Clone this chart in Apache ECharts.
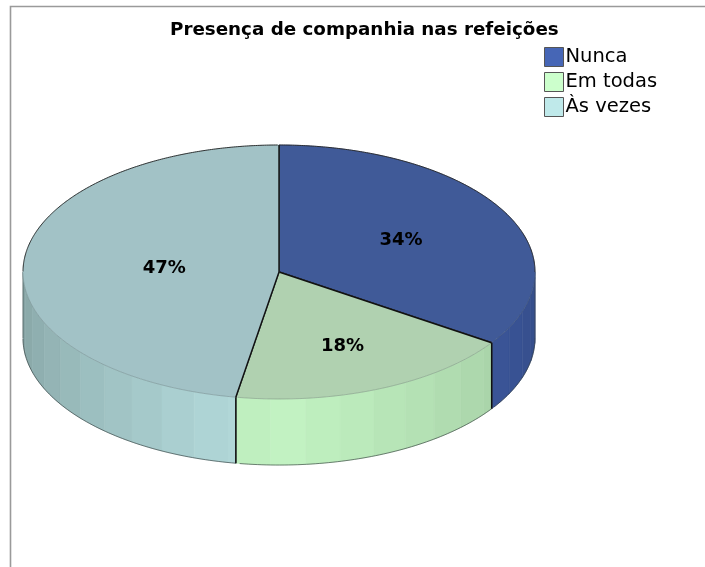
<!DOCTYPE html>
<html><head><meta charset="utf-8">
<style>html,body{margin:0;padding:0;background:#fff}#c{width:705px;height:567px}</style>
<script src="https://cdn.jsdelivr.net/npm/echarts@6/dist/echarts.min.js"></script>
</head><body><div id="c"></div>
<script>
const titleText = 'Presença de companhia nas refeições';
const categories = ['Nunca', 'Em todas', 'Às vezes'];
const shares = [34.4, 18.3, 47.3];
const labels = ['34%', '18%', '47%'];
const baseColors = ['#4666b6', '#ccffcc', '#bfe9ea'];
const topColors = ['#405a98', '#b0d1b0', '#a2c2c6'];

// drawing style constants (not data)
const labelRadius = [0.54, 0.63, 0.45];
const DEPTH = 0.52, FACET = 7.85;
const FONT = '"DejaVu Sans", sans-serif';

function rgb(hex, f) {
  const n = parseInt(hex.slice(1), 16);
  const ch = s => Math.round(((n >> s) & 255) * f);
  return 'rgb(' + ch(16) + ',' + ch(8) + ',' + ch(0) + ')';
}
function sideLight(a) {
  return a >= 180 ? 0.955 - (a - 180) * 0.0029 : 0.955 - (180 - a) * 0.0022;
}
function ellipse(a, drop) {
  const r = a * Math.PI / 180;
  return [Math.sin(r), Math.cos(r) - (drop || 0)];
}
function cumStart(i) {
  let s = 0;
  for (let k = 0; k < i; k++) s += shares[k];
  return s;
}

function makeRender(i) {
  return function (params, api) {
    const total = shares.reduce((a, b) => a + b, 0);
    const a0 = cumStart(i) / total * 360;
    const a1 = cumStart(i + 1) / total * 360;
    const P = (a, d) => api.coord(ellipse(a, d));
    const kids = [];
    const lo = Math.max(a0, 90), hi = Math.min(a1, 270);
    if (hi > lo) {
      for (let e = hi; e > lo + 0.01; e -= FACET) {
        const s = Math.max(lo, e - FACET);
        const pts = [];
        for (let a = s; a <= e + 0.001; a += (e - s) / 10) pts.push(P(a, 0));
        for (let a = e; a >= s - 0.001; a -= (e - s) / 10) pts.push(P(a, DEPTH));
        const col = rgb(baseColors[i], sideLight((s + e) / 2));
        kids.push({ type: 'polygon', shape: { points: pts },
          style: { fill: col, stroke: col, lineWidth: 0.6 } });
      }
      const bottom = [];
      for (let a = lo; a <= hi + 0.001; a += 1) bottom.push(P(a, DEPTH));
      kids.push({ type: 'polyline', shape: { points: bottom },
        style: { fill: null, stroke: 'rgba(40,50,50,0.6)', lineWidth: 1 } });
      [90, 270].forEach(edge => {
        if (edge >= lo && edge <= hi)
          kids.push({ type: 'line', shape: { x1: P(edge, 0)[0], y1: P(edge, 0)[1], x2: P(edge, DEPTH)[0], y2: P(edge, DEPTH)[1] },
            style: { stroke: 'rgba(40,50,50,0.5)', lineWidth: 1 } });
      });
    }
    const face = [api.coord([0, 0])];
    for (let a = a0; a < a1; a += 0.5) face.push(P(a, 0));
    face.push(P(a1, 0));
    kids.push({ type: 'polygon', shape: { points: face },
      style: { fill: topColors[i], stroke: topColors[i], lineWidth: 0.5 } });
    const backArc = [], frontArc = [];
    for (let a = a0; a <= a1 + 0.001; a += 0.5) {
      if (a <= 90 || a >= 270) backArc.push(P(a, 0));
      if (a >= 90 && a <= 270) frontArc.push(P(a, 0));
    }
    if (frontArc.length > 1) kids.push({ type: 'polyline', shape: { points: frontArc },
      style: { fill: null, stroke: 'rgba(60,70,70,0.3)', lineWidth: 0.8 } });
    if (backArc.length > 1) kids.push({ type: 'polyline', shape: { points: backArc },
      style: { fill: null, stroke: '#222', lineWidth: 0.9 } });
    const c = api.coord([0, 0]);
    [a0, a1].forEach(a => {
      const p = P(a, 0);
      kids.push({ type: 'line', shape: { x1: c[0], y1: c[1], x2: p[0], y2: p[1] },
        style: { stroke: '#111', lineWidth: 1.4 } });
      if (a > 90 && a < 270) {
        const q = P(a, DEPTH);
        kids.push({ type: 'line', shape: { x1: p[0], y1: p[1], x2: q[0], y2: q[1] },
          style: { stroke: '#111', lineWidth: 1.4 } });
      }
    });
    const mid = (a0 + a1) / 2, pos = ellipse(mid);
    const lp = api.coord([pos[0] * labelRadius[i], pos[1] * labelRadius[i]]);
    kids.push({ type: 'text', z2: 10, style: { x: lp[0], y: lp[1] + 1, text: labels[i],
      fill: '#000', font: 'bold 18px ' + FONT, textAlign: 'center', textVerticalAlign: 'middle' } });
    return { type: 'group', children: kids };
  };
}

const chart = echarts.init(document.getElementById('c'), null, { renderer: 'canvas' });
chart.setOption({
  animation: false,
  backgroundColor: '#fff',
  title: { text: titleText, left: 170, top: 21, padding: 0,
    textStyle: { color: '#000', fontFamily: FONT, fontWeight: 'bold', fontSize: 18.3 } },
  legend: { orient: 'vertical', left: 544, top: 47, padding: 0, itemWidth: 19, itemHeight: 19, itemGap: 5,
    icon: 'rect', selectedMode: false, data: categories,
    itemStyle: { borderColor: '#555', borderWidth: 1 },
    textStyle: { color: '#000', fontFamily: FONT, fontSize: 19.5, padding: [2, 0, 0, -3] } },
  grid: { left: 23, width: 512, top: 145, height: 254 },
  xAxis: { type: 'value', min: -1, max: 1, show: false },
  yAxis: { type: 'value', min: -1, max: 1, show: false },
  series: categories.map((name, i) => ({
    type: 'custom', name, coordinateSystem: 'cartesian2d', clip: false,
    itemStyle: { color: baseColors[i] },
    renderItem: makeRender(i),
    data: [[0, 0, shares[i]]],
    silent: true
  })),
  graphic: [{ type: 'polyline', silent: true,
    shape: { points: [[10.5, 567], [10.5, 6.5], [705, 6.5]] },
    style: { fill: null, stroke: '#9a9a9a', lineWidth: 1.6 } }]
});
</script></body></html>
